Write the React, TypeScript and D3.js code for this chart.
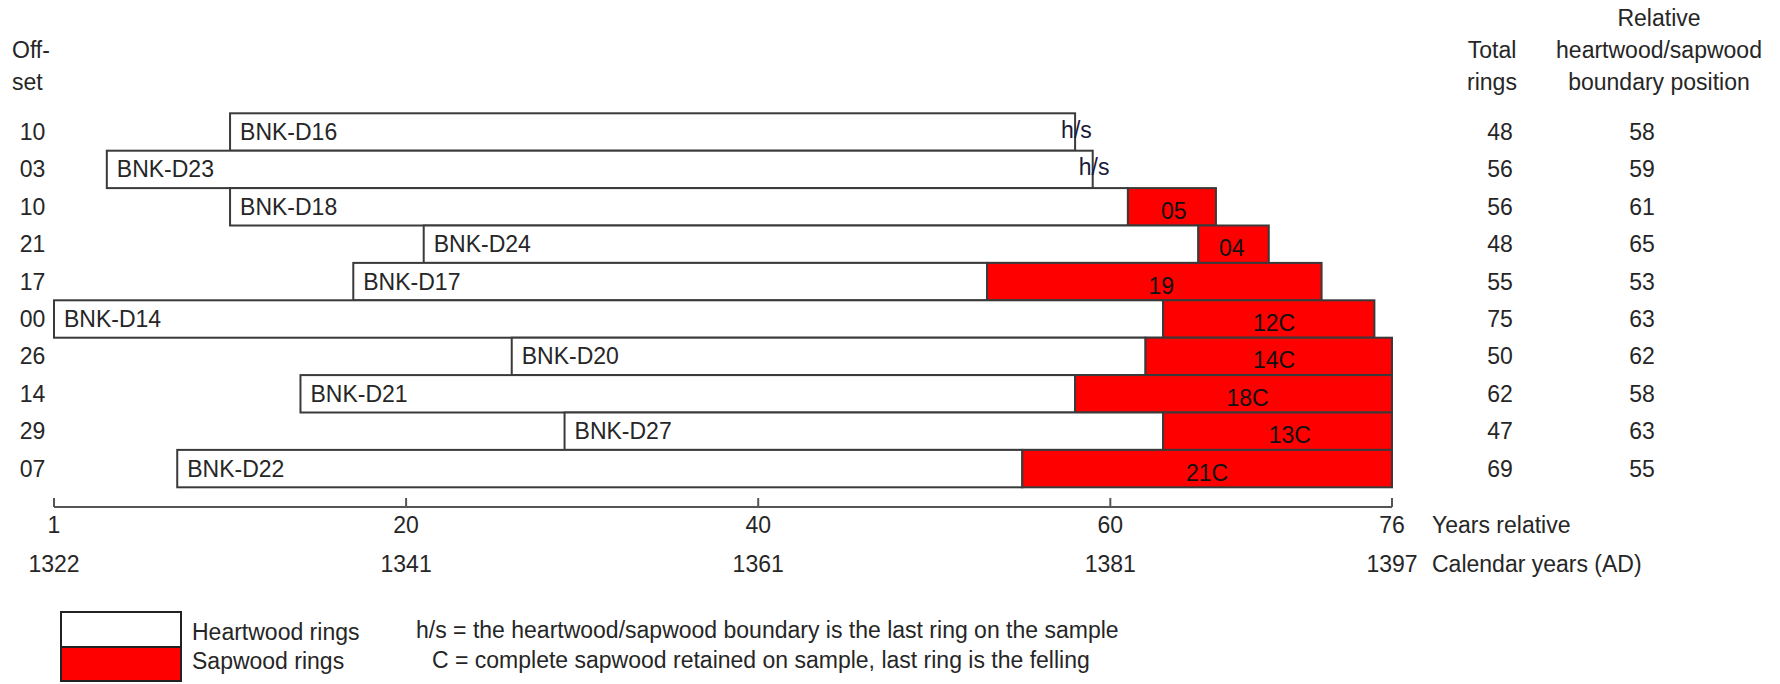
import React from 'react';
import * as d3 from 'd3';

const samples = ["BNK-D16", "BNK-D23", "BNK-D18", "BNK-D24", "BNK-D17", "BNK-D14", "BNK-D20", "BNK-D21", "BNK-D27", "BNK-D22"];
const offsets = [10, 3, 10, 21, 17, 0, 26, 14, 29, 7];
const totalRings = [48, 56, 56, 48, 55, 75, 50, 62, 47, 69];
const boundary = [58, 59, 61, 65, 53, 63, 62, 58, 63, 55];
const sapLabels = ["h/s", "h/s", "05", "04", "19", "12C", "14C", "18C", "13C", "21C"];
// where (in relative years) each sapwood label sits in the picture
const sapLabelAt = [null, null, 63.6, 66.9, 62.9, 69.3, 69.3, 67.8, 70.2, 65.5];

const relTicks = [0, 20, 40, 60, 76];
const relTickLabels = ["1", "20", "40", "60", "76"];
const calTickLabels = ["1322", "1341", "1361", "1381", "1397"];

const W = 1780;
const H = 684;
const FONT = "'Liberation Sans', Arial, sans-serif";
const FS = 23;
const TXT = "#262626";
const EDGE = "#3a3a3a";

function App() {
  const x = d3.scaleLinear().domain([0, 76]).range([54, 1392]);
  const y = d3.scaleBand().domain(samples).range([113.3, 487.3]);
  const bh = y.bandwidth();
  const axisY = 507;

  const rows = samples.map((s, i) => {
    const start = offsets[i];
    const end = offsets[i] + totalRings[i];
    const b = Math.min(boundary[i], end);
    return { s, i, start, end, b };
  });

  return (
    <svg width={W} height={H} style={{ position: 'absolute', left: 0, top: 0 }}
      fontFamily={FONT} fontSize={FS} fill={TXT}>
      <rect width={W} height={H} fill="#fff" />

      {/* headers */}
      <text x={12} y={50} dy="0.35em">Off-</text>
      <text x={12} y={82} dy="0.35em">set</text>
      <text x={1492} y={50} dy="0.35em" textAnchor="middle">Total</text>
      <text x={1492} y={82} dy="0.35em" textAnchor="middle">rings</text>
      <text x={1659} y={18} dy="0.35em" textAnchor="middle">Relative</text>
      <text x={1659} y={50} dy="0.35em" textAnchor="middle">heartwood/sapwood</text>
      <text x={1659} y={82} dy="0.35em" textAnchor="middle">boundary position</text>

      {rows.map(r => {
        const cy = (y(r.s) as number) + bh / 2;
        const top = y(r.s) as number;
        return (
          <g key={r.s}>
            <text x={32.5} y={cy} dy="0.35em" textAnchor="middle">
              {String(offsets[r.i]).padStart(2, '0')}
            </text>
            <rect x={x(r.start)} y={top} width={x(r.b) - x(r.start)} height={bh}
              fill="#fff" stroke={EDGE} strokeWidth={2} />
            {r.end > r.b && (
              <rect x={x(r.b)} y={top} width={x(r.end) - x(r.b)} height={bh}
                fill="#ff0000" stroke={EDGE} strokeWidth={2} />
            )}
            <text x={x(r.start) + 10} y={cy} dy="0.35em">{r.s}</text>
            {sapLabelAt[r.i] == null ? (
              <text x={x(r.end) - 14} y={cy - 2} dy="0.35em" fill="#1a1a3a">{sapLabels[r.i]}</text>
            ) : (
              <text x={x(sapLabelAt[r.i] as number)} y={cy + 4} dy="0.35em" textAnchor="middle" fill="#111">
                {sapLabels[r.i]}
              </text>
            )}
            <text x={1500} y={cy} dy="0.35em" textAnchor="middle">{totalRings[r.i]}</text>
            <text x={1642} y={cy} dy="0.35em" textAnchor="middle">{boundary[r.i]}</text>
          </g>
        );
      })}

      {/* axis */}
      <line x1={x(0)} x2={x(76)} y1={axisY} y2={axisY} stroke="#555" strokeWidth={2} />
      {relTicks.map((t, i) => (
        <g key={t}>
          <line x1={x(t)} x2={x(t)} y1={axisY} y2={axisY - 9} stroke="#555" strokeWidth={2} />
          <text x={x(t)} y={525} dy="0.35em" textAnchor="middle">{relTickLabels[i]}</text>
          <text x={x(t)} y={564} dy="0.35em" textAnchor="middle">{calTickLabels[i]}</text>
        </g>
      ))}
      <text x={1432} y={525} dy="0.35em">Years relative</text>
      <text x={1432} y={564} dy="0.35em">Calendar years (AD)</text>

      {/* legend */}
      <rect x={61} y={612} width={120} height={35} fill="#fff" stroke="#222" strokeWidth={2} />
      <rect x={61} y={647} width={120} height={34} fill="#ff0000" stroke="#222" strokeWidth={2} />
      <text x={192} y={632} dy="0.35em">Heartwood rings</text>
      <text x={192} y={661} dy="0.35em">Sapwood rings</text>
      <text x={416} y={630} dy="0.35em">h/s = the heartwood/sapwood boundary is the last ring on the sample</text>
      <text x={432} y={660} dy="0.35em">C = complete sapwood retained on sample, last ring is the felling</text>
    </svg>
  );
}

export default App;
